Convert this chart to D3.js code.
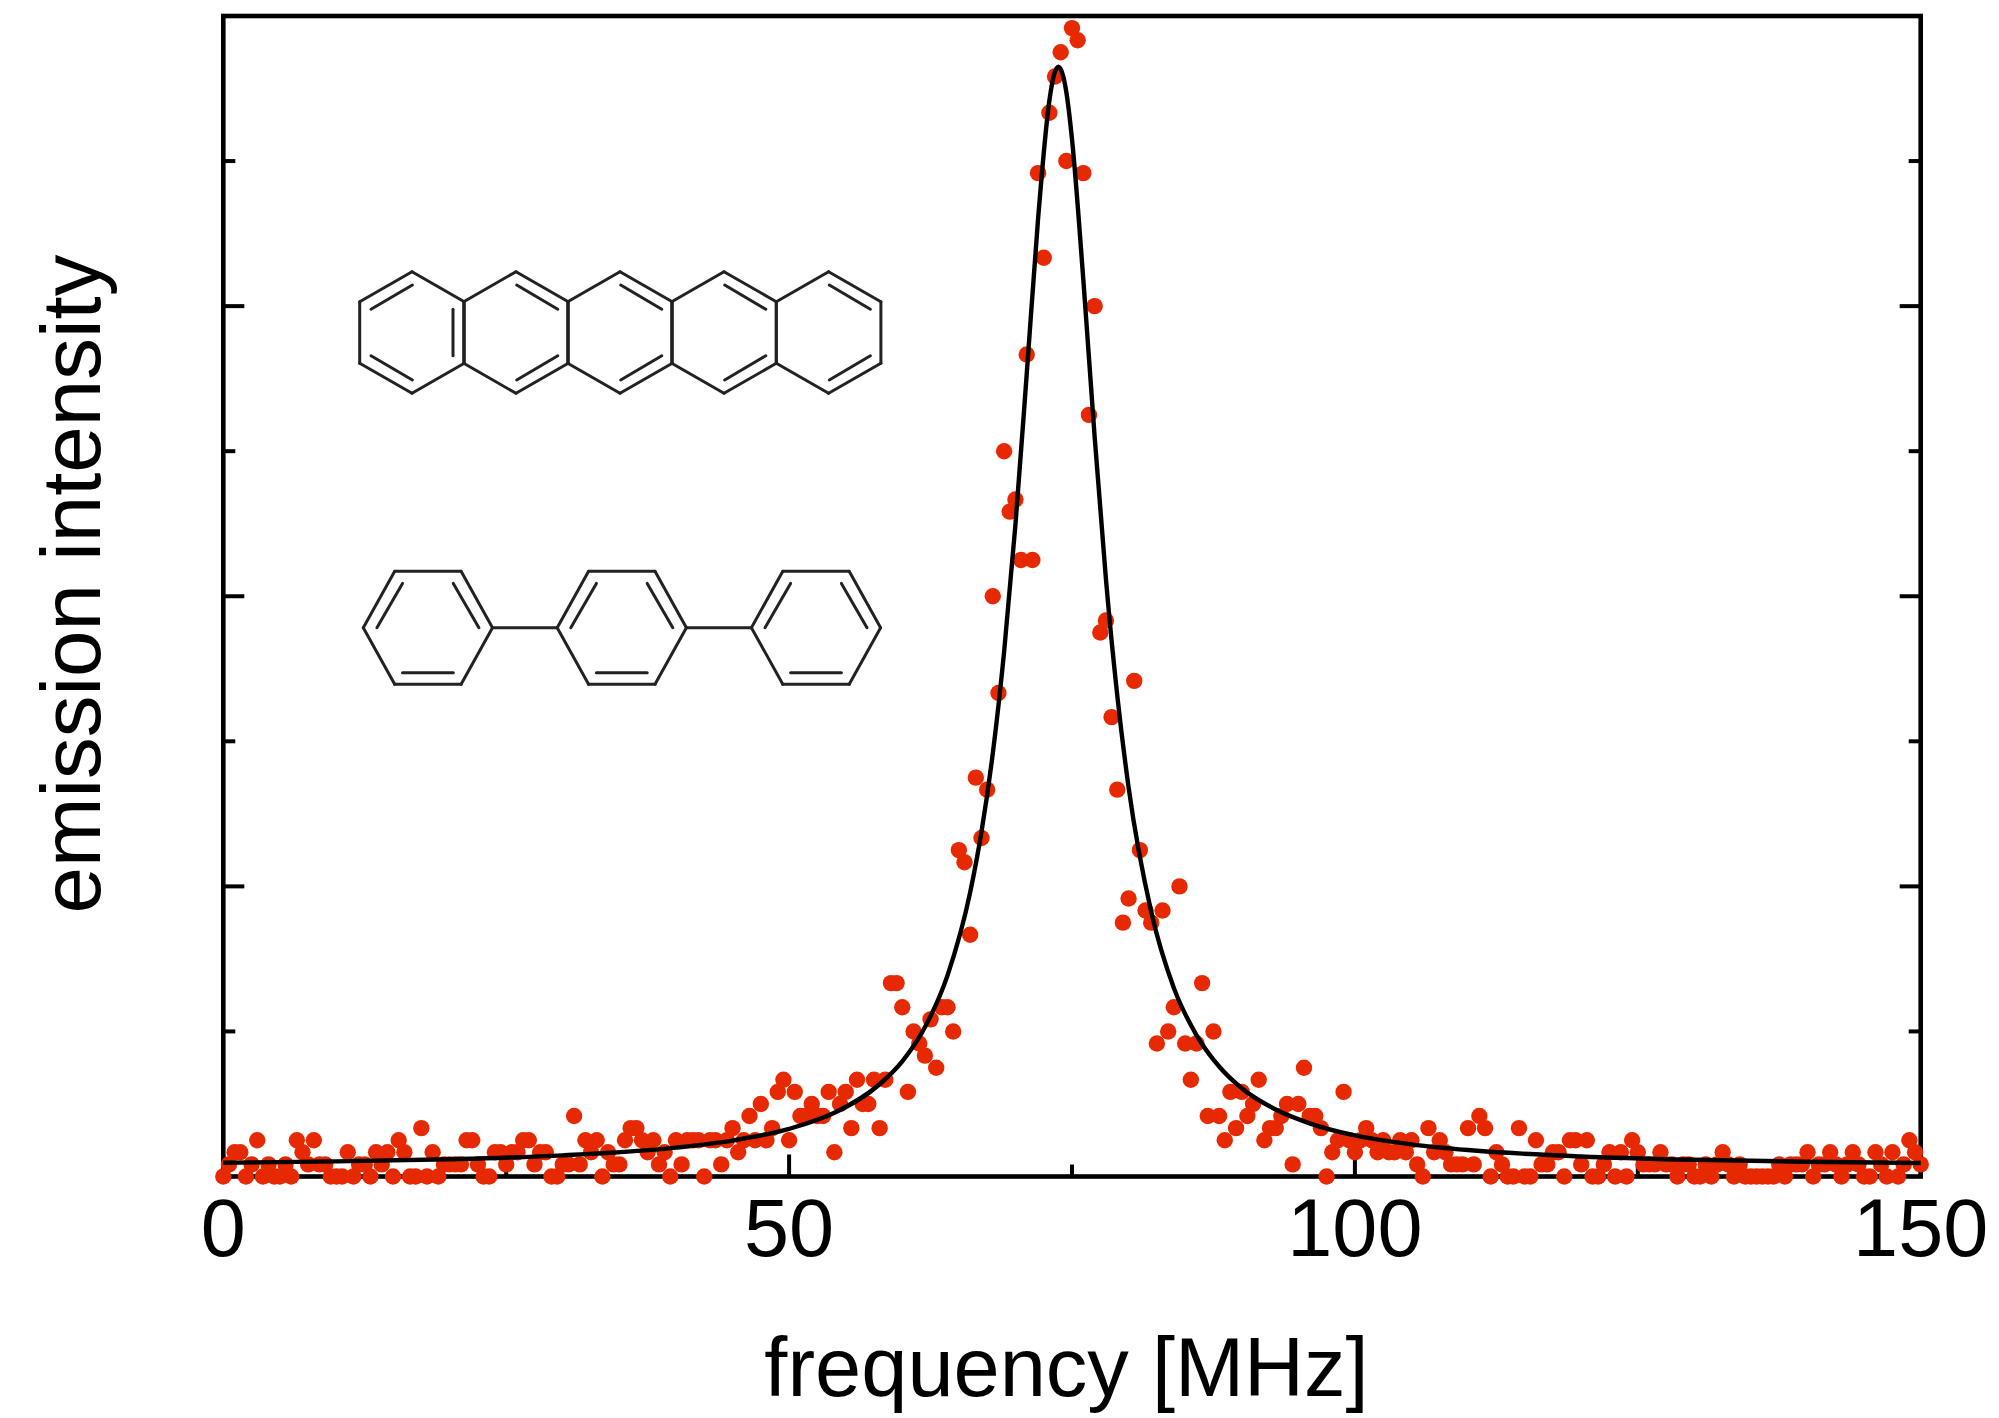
<!DOCTYPE html>
<html>
<head>
<meta charset="utf-8">
<title>emission intensity</title>
<script src="https://cdn.jsdelivr.net/npm/d3@7"></script>
<style>
  html, body { margin: 0; padding: 0; background: #fff; }
  svg { display: block; }
  text { font-family: "Liberation Sans", sans-serif; fill: #000; }
</style>
</head>
<body>
<div id="chart"></div>
<script>
// photon counts, one every 0.5 MHz
const freqStep = 0.5;
const countsLow = [
  0,1,2,2,0,1,3,0,1,0, 0,1,0,3,2,1,3,1,1,0, 0,0,2,0,1,1,0,2,1,2, 0,3,2,0,0,4,0,2,0,1,
  1,1,1,3,3,1,0,0,2,2, 1,2,2,3,3,1,2,2,0,0, 1,1,5,1,3,2,3,0,2,1, 1,3,4,4,3,2,3,1,2,0,
  3,1,3,3,3,0,3,3,1,3, 4,2,3,5,3,6,3,4,7,8, 3,7,5,5,6,5,5,7,2,6, 7,4,8,6,6,8,4,8
];
const countsPeak = [
  16,16,14,7,12,11,10,13,9,14, 14,12,27,26,20,33,28,32,48,40, 60,55,56,51,68,51,83,76,88,91,
  93,84,95,94,83,63,72,45,46,38, 32,21,23,41,27,22,21,11,22,12, 14,24,11,8,11,16
];
const countsHigh = [
  5,12,5,3,7,4,7,5,6,8, 3,4,4,5,6,1,6,9,5,5, 4,0,2,3,7,3,2,3,4,3, 2,3,2,2,3,2,3,1,0,4,
  2,3,2,1,1,1,4,1,5,4, 0,2,1,0,0,4,0,0,3,1, 1,2,2,0,3,3,1,3,0,0, 1,2,0,2,0,3,2,1,1,1,
  2,1,1,0,1,1,0,0,1,0, 1,2,1,0,1,0,0,0,0,0, 0,1,0,1,1,1,2,0,1,1, 2,1,0,1,2,1,0,0,2,1,
  0,2,0,1,3,2,1
];
const counts = countsLow.concat(countsPeak, countsHigh);

// fitted curve
const fitFreq = [0,10,20,30,40,45,50,54,58,60,62,64,66,67,68,69,70,71,72,73,73.4,73.8,74.2,74.5,75,76,77,78,79,80,82,84,86,88,90,93,96,100,105,110,120,130,140,150];
const fitValue = [1.14,1.25,1.43,1.75,2.39,2.97,3.94,5.27,7.63,9.53,12.35,16.64,23.5,28.5,35,43.4,53.9,66.4,79.2,89,91.1,91.8,91.1,89.7,85.8,74.2,61.2,49.4,39.8,32.2,21.9,15.6,11.7,9.1,7.3,5.54,4.4,3.4,2.66,2.19,1.66,1.38,1.22,1.12];

const xMajor = [0, 50, 100, 150];
const xMinor = [25, 75, 125];
const yMajor = [24, 48, 72];
const yMinor = [12, 36, 60, 84];

const width = 1999, height = 1418;
const margin = { left: 223.3, right: 1920.7, top: 16, bottom: 1176.5 };

const svg = d3.select("#chart").append("svg")
  .attr("width", width)
  .attr("height", height);

const x = d3.scaleLinear().domain([0, 150]).range([margin.left, margin.right]);
const y = d3.scaleLinear().domain([0, 96]).range([margin.bottom, margin.top]);

function styleAxis(sel) {
  sel.selectAll("line").attr("stroke", "#000").attr("stroke-width", 4);
  sel.select(".domain").remove();
}

// ticks point into the frame
svg.append("g").attr("transform", `translate(0, ${margin.bottom})`)
  .call(d3.axisBottom(x).tickValues(xMajor).tickSizeInner(-22).tickSizeOuter(0).offset(0))
  .call(styleAxis)
  .call(g => g.selectAll("text")
    .attr("y", 79.5).attr("dy", 0)
    .attr("font-size", 81)
    .attr("font-family", null));
svg.append("g").attr("transform", `translate(0, ${margin.bottom})`)
  .call(d3.axisBottom(x).tickValues(xMinor).tickSizeInner(-12).tickSizeOuter(0).offset(0).tickFormat(""))
  .call(styleAxis);

[[margin.left, d3.axisLeft], [margin.right, d3.axisRight]].forEach(([pos, axis]) => {
  svg.append("g").attr("transform", `translate(${pos}, 0)`)
    .call(axis(y).tickValues(yMajor).tickSizeInner(-21).tickSizeOuter(0).offset(0).tickFormat(""))
    .call(styleAxis);
  svg.append("g").attr("transform", `translate(${pos}, 0)`)
    .call(axis(y).tickValues(yMinor).tickSizeInner(-12).tickSizeOuter(0).offset(0).tickFormat(""))
    .call(styleAxis);
});

// frame
svg.append("rect")
  .attr("x", margin.left)
  .attr("y", margin.top)
  .attr("width", margin.right - margin.left)
  .attr("height", margin.bottom - margin.top)
  .attr("fill", "none")
  .attr("stroke", "#000")
  .attr("stroke-width", 4.6);

// molecules, sketched in page pixels
function bond(g, x1, y1, x2, y2) {
  g.append("line")
    .attr("x1", x1).attr("y1", y1).attr("x2", x2).attr("y2", y2)
    .attr("stroke", "#222").attr("stroke-width", 3).attr("stroke-linecap", "round");
}

const acene = svg.append("g");
const aceneX = [412, 516, 620, 724, 828.6];
aceneX.forEach((cx, i) => {
  const cy = 332.5, hw = 52.3;
  const pts = [[cx - hw, cy - 30.8], [cx, cy - 60.8], [cx + hw, cy - 30.8], [cx + hw, cy + 30.8], [cx, cy + 60.8], [cx - hw, cy + 30.8]];
  pts.forEach((p, j) => {
    const q = pts[(j + 1) % 6];
    bond(acene, p[0], p[1], q[0], q[1]);
  });
  if (i === 0) {
    bond(acene, cx - 41, cy - 23.2, cx + 0.4, cy - 47.5);
    bond(acene, cx + 41, cy - 23.2, cx + 41, cy + 23.2);
    bond(acene, cx - 41, cy + 23.2, cx + 0.4, cy + 47.5);
  } else {
    bond(acene, cx + 0.7, cy - 47.5, cx + 41.8, cy - 23.2);
    bond(acene, cx + 0.7, cy + 47.5, cx + 41.8, cy + 23.2);
  }
});

const terphenyl = svg.append("g");
[427.9, 621.8, 816].forEach((cx, i) => {
  const cy = 627.7;
  const pts = [[cx - 64.6, cy], [cx - 33.2, cy - 56.5], [cx + 33.2, cy - 56.5], [cx + 64.6, cy], [cx + 33.2, cy + 56.5], [cx - 33.2, cy + 56.5]];
  pts.forEach((p, j) => {
    const q = pts[(j + 1) % 6];
    bond(terphenyl, p[0], p[1], q[0], q[1]);
  });
  bond(terphenyl, cx - 51, cy, cx - 25.4, cy - 44.3);
  bond(terphenyl, cx + 25.4, cy - 44.3, cx + 51, cy);
  bond(terphenyl, cx - 25.4, cy + 45, cx + 25.4, cy + 45);
  if (i < 2) bond(terphenyl, cx + 64.6, cy, cx + 129.2, cy);
});

// data points
svg.append("g").selectAll("circle")
  .data(counts)
  .enter()
  .append("circle")
    .attr("cx", (d, i) => x(i * freqStep))
    .attr("cy", d => y(d))
    .attr("r", 8.2)
    .attr("fill", "#e62900");

// fit line goes over the points
const line = d3.line()
  .x(d => x(d[0]))
  .y(d => y(d[1]))
  .curve(d3.curveMonotoneX);

svg.append("path")
  .datum(d3.zip(fitFreq, fitValue))
  .attr("d", line)
  .attr("fill", "none")
  .attr("stroke", "#000")
  .attr("stroke-width", 4.4);

// axis titles
svg.append("text")
  .text("frequency [MHz]")
  .attr("x", 1066.5)
  .attr("y", 1396)
  .attr("font-size", 83)
  .attr("text-anchor", "middle");

svg.append("text")
  .text("emission intensity")
  .attr("transform", "translate(100, 584) rotate(-90)")
  .attr("font-size", 83.5)
  .attr("text-anchor", "middle");
</script>
</body>
</html>
